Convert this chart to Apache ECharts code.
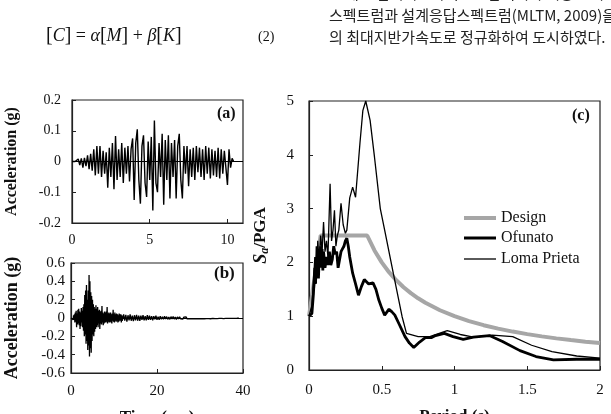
<!DOCTYPE html>
<html>
<head>
<meta charset="utf-8">
<script src="https://cdn.jsdelivr.net/npm/echarts@6/dist/echarts.min.js"></script>
<style>
html,body{margin:0;padding:0;background:#fff;}
#chart{width:611px;height:414px;}
</style>
</head>
<body>
<div id="chart"></div>
<script>
// (a) 입력 지진파 가속도 시간이력, dt = 0.1 s
var dtA = 0.1;
var accA = [
	0,0,0,0,0.008,-0.012,0.01,-0.02,0.012,-0.015,
	0.02,-0.025,0.025,-0.03,0.04,-0.045,0.05,-0.04,0.05,-0.05,
	0.035,-0.04,0.03,-0.085,0.045,-0.05,0.06,-0.09,0.083,-0.06,
	0.04,-0.05,0.06,-0.07,0.045,-0.04,0.05,-0.065,0.04,0.075,
	-0.125,0.06,0.105,-0.06,-0.137,0.05,0.085,-0.07,-0.115,0.065,
	-0.06,0.08,-0.159,0.133,-0.07,-0.1,0.06,-0.05,0.09,-0.141,
	0.07,-0.06,0.085,-0.12,0.06,-0.05,0.07,-0.12,0.05,0.09,
	-0.06,-0.12,0.05,-0.04,0.05,-0.08,0.04,-0.05,0.045,-0.06,
	0.05,-0.035,0.045,-0.05,0.04,-0.06,0.05,-0.04,0.045,-0.055,
	0.04,-0.045,0.035,-0.05,0.045,-0.055,0.04,-0.04,0.035,0.04,
	-0.076,0.04,-0.02,0.01,0
];

// (b) 가속도 시간이력: 0~12 s 는 dt 0.1, 이후 dt 0.25
var dtB = 0.1;
var accB = [
	0,0,0,0,0.01,-0.02,0.03,-0.02,0.04,-0.05,
	0.06,-0.04,0.08,-0.1,0.05,-0.07,0.09,-0.06,0.1,-0.08,
	0.07,-0.12,0.06,-0.09,0.11,-0.05,0.08,-0.1,0.12,-0.14,
	0.15,-0.2,0.25,-0.18,0.3,-0.28,0.36,-0.25,0.2,-0.35,
	0.3,-0.3,0.47,-0.42,0.4,-0.33,0.28,-0.38,0.24,-0.25,
	0.2,-0.18,0.15,-0.2,0.12,-0.15,0.1,-0.12,0.14,-0.1,
	0.1,-0.08,0.12,-0.1,0.08,-0.06,0.09,-0.12,0.07,-0.06,
	0.08,-0.07,0.13,-0.05,0.06,-0.08,0.05,-0.06,0.07,-0.05,
	0.06,-0.05,0.07,-0.04,0.12,-0.06,0.05,-0.04,0.06,-0.05,
	0.05,-0.04,0.06,-0.05,0.04,-0.06,0.05,-0.03,0.09,-0.04,
	0.04,-0.05,0.06,-0.03,0.04,-0.04,0.05,-0.03,0.04,-0.05,
	0.03,-0.04,0.05,-0.03,0.04,-0.03,0.04,-0.05,0.03,-0.03
];
var tailStartB = 12;
var dtBTail = 0.25;
var accBTail = [
	0.04,-0.03,0.035,-0.04,0.03,-0.025,0.04,-0.03,0.025,-0.035,0.03,-0.025,0.035,-0.03,0.025,-0.03,
	0.025,-0.02,0.03,-0.025,0.02,-0.025,0.03,-0.02,0.025,-0.02,0.02,-0.025,0.02,-0.015,0.025,-0.02,
	0.015,-0.02,0.02,-0.015,0.015,-0.015,0.02,-0.01,0.015,-0.015,0.01,-0.015,0.015,-0.01,0.015,-0.012,0.01,-0.015,0.012,
	-0.01,0.012,-0.01,0.01,-0.012,0.01,-0.008,0.012,-0.01,0.008,-0.01,0.01,-0.008,0.01,-0.008,0.008,-0.01,0.008,-0.008,
	0.008,-0.006,0.008,-0.008,0.006,-0.008,0.006,-0.006,0.008,-0.006,0.006,-0.008,0.006,-0.005,0.006,-0.006,0.005,-0.006,0.005,
	-0.005,0.006,-0.005,0.005,-0.006,0.004,-0.005,0.005,-0.004,0.005,-0.004,0.004,-0.005,0.004,-0.004,0.004,-0.003,0.003,0
];

// (c) 응답스펙트럼 (Sa/PGA)
var periodDesign = [0,0.08,0.4,0.45,0.5,0.55,0.6,0.65,0.7,0.75,0.8,0.9,1.0,1.1,1.2,1.3,1.4,1.5,1.6,1.7,1.8,1.9,2.0];
var saDesign = [1.0,2.5,2.5,2.222,2.0,1.818,1.667,1.538,1.429,1.333,1.25,1.111,1.0,0.909,0.833,0.769,0.714,0.667,0.625,0.588,0.556,0.526,0.5];

var periodOfunato = [0,0.01,0.02,0.03,0.04,0.045,0.05,0.055,0.06,0.065,0.07,0.075,0.08,0.085,0.09,0.095,0.1,0.11,0.12,0.13,0.14,0.15,0.16,0.17,0.18,0.19,0.2,0.21,0.22,0.23,0.24,0.25,0.26,0.27,0.28,0.3,0.32,0.34,0.36,0.38,0.39,0.41,0.42,0.44,0.46,0.48,0.5,0.52,0.55,0.57,0.59,0.62,0.66,0.69,0.72,0.76,0.8,0.84,0.87,0.93,0.99,1.06,1.13,1.24,1.33,1.45,1.56,1.68,1.84,2.0];
var saOfunato = [1.0,1.0,1.05,1.4,1.9,1.6,2.1,1.8,2.2,1.7,2.1,2.0,2.3,1.9,2.25,1.85,2.2,1.9,2.1,1.95,2.2,1.95,2.05,2.3,2.15,2.2,1.9,2.05,2.2,2.25,2.3,2.4,2.45,2.3,2.1,1.8,1.6,1.39,1.55,1.68,1.69,1.6,1.58,1.62,1.5,1.3,1.15,1.02,1.13,1.08,1.02,0.85,0.62,0.5,0.42,0.52,0.6,0.6,0.64,0.68,0.62,0.57,0.61,0.64,0.53,0.36,0.25,0.19,0.2,0.2];

var periodLoma = [0,0.01,0.02,0.03,0.04,0.045,0.05,0.055,0.06,0.07,0.08,0.09,0.1,0.11,0.12,0.13,0.145,0.155,0.165,0.175,0.185,0.195,0.205,0.22,0.235,0.25,0.26,0.28,0.3,0.32,0.35,0.37,0.39,0.42,0.45,0.49,0.52,0.58,0.64,0.67,0.75,0.83,0.925,0.95,1.04,1.13,1.26,1.4,1.53,1.67,1.84,2.0];
var saLoma = [1.0,1.0,1.2,1.6,2.1,1.7,2.3,1.9,2.4,2.0,2.5,2.2,2.75,2.2,2.4,2.1,3.46,2.4,2.6,2.97,2.3,2.5,2.6,3.1,2.7,2.54,2.6,3.2,3.4,3.21,4.21,4.82,5.0,4.64,3.96,3.0,2.6,1.79,0.99,0.68,0.62,0.62,0.71,0.73,0.66,0.61,0.65,0.62,0.46,0.34,0.26,0.22];

var timeTicksA = [0, 11, 5];   // min, max, interval
var timeTicksB = [0, 40, 20];
var accTicksA = [-0.2, 0.2, 0.1];
var accTicksB = [-0.6, 0.6, 0.2];
var periodTicks = [0, 2, 0.5];
var saTicks = [0, 5, 1];

function pairs(t, v){
	var out=[];
	for(var i=0;i<t.length;i++){ out.push([t[i], v[i]]); }
	return out;
}
function history(start, dt, vals){
	var out=[];
	for(var i=0;i<vals.length;i++){ out.push([+(start+i*dt).toFixed(3), vals[i]]); }
	return out;
}

var serif = 'Liberation Serif';
var kr = 'Noto Sans CJK KR';
var dataA = history(0, dtA, accA);
var dataB = history(0, dtB, accB).concat(history(tailStartB+dtBTail, dtBTail, accBTail));

function valAxis(idx, r, extra){
	var ax = {
		type:'value', gridIndex:idx, min:r[0], max:r[1], interval:r[2],
		splitLine:{show:false},
		axisLine:{show:true, onZero:false, lineStyle:{color:'#222', width:1.2}},
		axisTick:{show:true, inside:true, length:4, lineStyle:{color:'#222'}},
		axisLabel:{color:'#111', fontFamily:serif, fontSize:14},
		nameTextStyle:{color:'#111', fontFamily:serif, fontWeight:'bold', fontSize:16},
		nameLocation:'middle'
	};
	for(var k in extra){
		if(typeof extra[k]==='object' && ax[k]){ for(var j in extra[k]) ax[k][j]=extra[k][j]; }
		else ax[k]=extra[k];
	}
	return ax;
}

// 범례는 선 굵기를 따로 주려고 하나씩
function legendItem(name, top, h){
	return {
		orient:'vertical', left:459, top:top, itemWidth:32, itemHeight:h,
		icon:'rect', data:[name],
		textStyle:{fontFamily:serif, fontSize:16, color:'#111'}
	};
}

var zeroLine = {silent:true, symbol:'none', label:{show:false}, lineStyle:{color:'#000', width:1.2, type:'solid'}, data:[{yAxis:0}]};

var myChart = echarts.init(document.getElementById('chart'), null, {renderer:'canvas'});

option = {
	animation:false,
	backgroundColor:'#fff',
	grid:[
		{left:72, top:100, width:171, height:123, show:true, borderColor:'#222', borderWidth:1.2, outerBoundsMode:'none'},
		{left:71, top:263, width:172, height:110, show:true, borderColor:'#222', borderWidth:1.2, outerBoundsMode:'none'},
		{left:309, top:101, width:291, height:269, show:true, borderColor:'#222', borderWidth:1.2, outerBoundsMode:'none'}
	],
	xAxis:[
		valAxis(0, timeTicksA, {axisLabel:{margin:10, showMaxLabel:false}}),
		valAxis(1, timeTicksB, {name:'Time (sec)', nameGap:36, axisLabel:{margin:11, fontSize:15}, nameTextStyle:{fontSize:17}}),
		valAxis(2, periodTicks, {name:'Period (s)', nameGap:38, axisLabel:{margin:13, fontSize:15}, nameTextStyle:{fontSize:17}})
	],
	yAxis:[
		valAxis(0, accTicksA, {name:'Acceleration (g)', nameGap:52, axisLabel:{margin:11}}),
		valAxis(1, accTicksB, {name:'Acceleration (g)', nameGap:50, axisLabel:{margin:6, fontSize:15}, nameTextStyle:{fontSize:18}}),
		valAxis(2, saTicks, {
			name:'{s|S}{a|a}{p|/PGA}', nameGap:38, axisLabel:{margin:15, fontSize:15},
			nameTextStyle:{rich:{
				s:{fontFamily:serif, fontWeight:'bold', fontStyle:'italic', fontSize:18, color:'#111'},
				a:{fontFamily:serif, fontWeight:'bold', fontStyle:'italic', fontSize:12, color:'#111', verticalAlign:'bottom', padding:[8,0,0,0]},
				p:{fontFamily:serif, fontWeight:'bold', fontSize:17, color:'#111'}
			}}
		})
	],
	legend:[
		legendItem('Design', 205, 4),
		legendItem('Ofunato', 225, 3),
		legendItem('Loma Prieta', 246, 1.3)
	],
	series:[
		{type:'line', xAxisIndex:0, yAxisIndex:0, data:dataA, symbol:'none', lineStyle:{color:'#000', width:1.4}, markLine:zeroLine},
		{type:'line', xAxisIndex:1, yAxisIndex:1, data:dataB, symbol:'none', lineStyle:{color:'#000', width:1.3}, markLine:zeroLine},
		{name:'Design', type:'line', xAxisIndex:2, yAxisIndex:2, data:pairs(periodDesign, saDesign), symbol:'none', itemStyle:{color:'#a6a6a6'}, lineStyle:{color:'#a6a6a6', width:4}},
		{name:'Ofunato', type:'line', xAxisIndex:2, yAxisIndex:2, data:pairs(periodOfunato, saOfunato), symbol:'none', itemStyle:{color:'#000'}, lineStyle:{color:'#000', width:2.8}},
		{name:'Loma Prieta', type:'line', xAxisIndex:2, yAxisIndex:2, data:pairs(periodLoma, saLoma), symbol:'none', itemStyle:{color:'#000'}, lineStyle:{color:'#000', width:1.3}}
	],
	graphic:[
		{type:'text', left:46, top:26, style:{
			text:'{b|[}{i|C}{b|]} = {i|α}{b|[}{i|M}{b|]} + {i|β}{b|[}{i|K}{b|]}',
			rich:{
				b:{fontFamily:serif, fontSize:20, fill:'#111'},
				i:{fontFamily:serif, fontStyle:'italic', fontSize:18, fill:'#111'}
			},
			fontFamily:serif, fontSize:18, fill:'#111'
		}},
		{type:'text', left:258, top:30, style:{text:'(2)', fontFamily:serif, fontSize:14, fill:'#111'}},
		{type:'text', left:329, top:-14, style:{text:'3c에는 입력지진파의 5% 감쇠비가 적용된 가속도응답', fontFamily:kr, fontSize:15, fill:'#222'}},
		{type:'text', left:329, top:8, style:{text:'스펙트럼과 설계응답스펙트럼(MLTM, 2009)을', fontFamily:kr, fontSize:15, fill:'#222'}},
		{type:'text', left:329, top:30, style:{text:'의 최대지반가속도로 정규화하여 도시하였다.', fontFamily:kr, fontSize:15, fill:'#222'}},
		{type:'text', left:217, top:106, style:{text:'(a)', fontFamily:serif, fontWeight:'bold', fontSize:16, fill:'#111'}},
		{type:'text', left:214, top:265, style:{text:'(b)', fontFamily:serif, fontWeight:'bold', fontSize:17, fill:'#111'}},
		{type:'text', left:572, top:108, style:{text:'(c)', fontFamily:serif, fontWeight:'bold', fontSize:16, fill:'#111'}}
	]
};

myChart.setOption(option);
</script>
</body>
</html>
